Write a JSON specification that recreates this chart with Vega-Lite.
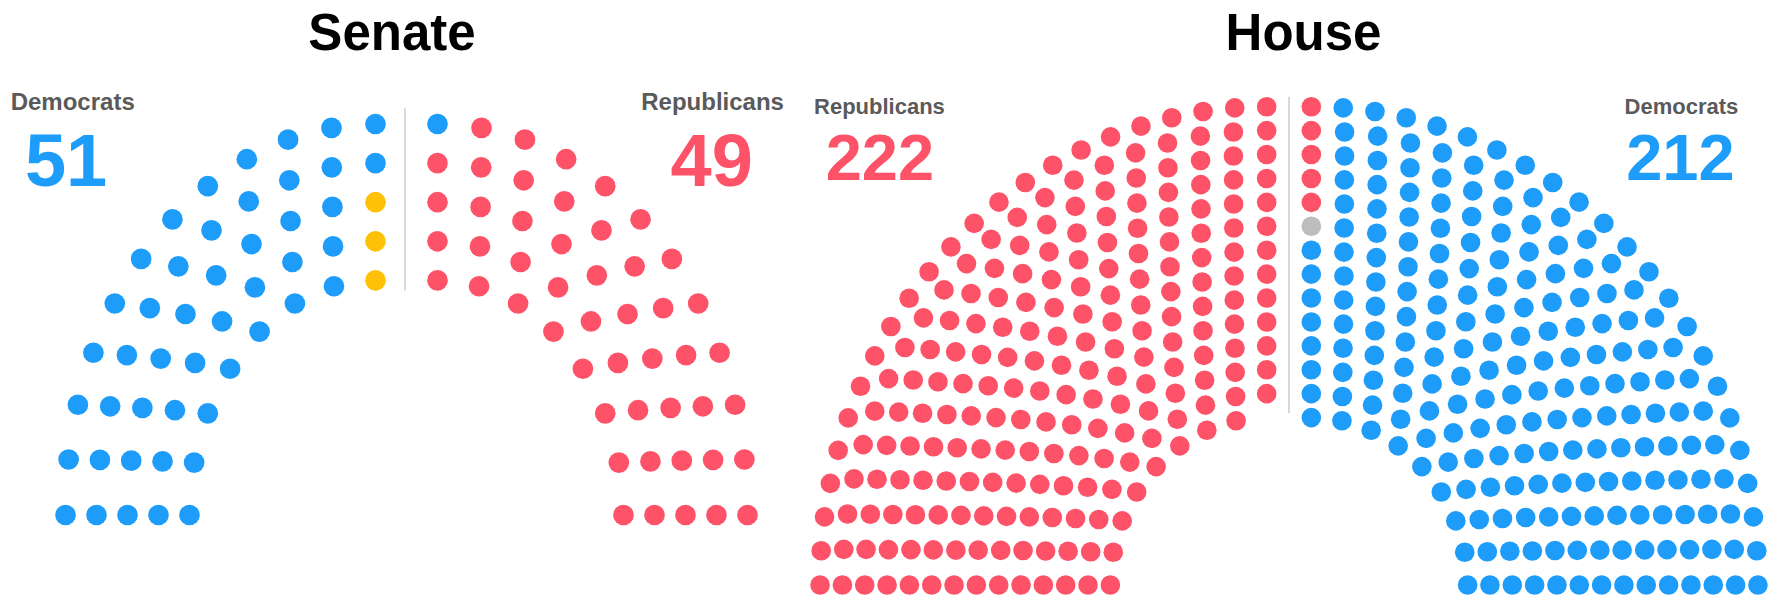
{
"$schema": "https://vega.github.io/schema/vega-lite/v6.json",
"padding": 0,
"spacing": 0,
"background": "white",
"config": {"view": {"stroke": null}, "font": "Liberation Sans"},
"datasets": {
"senate": [
{"x":-11,"y":0,"p":"D"},{"x":-10.9,"y":1.42,"p":"D"},{"x":-10.6,"y":2.82,"p":"D"},{"x":-10.1,"y":4.15,"p":"D"},{"x":-9.41,"y":5.41,"p":"D"},{"x":-8.56,"y":6.55,"p":"D"},{"x":-7.55,"y":7.56,"p":"D"},{"x":-6.41,"y":8.41,"p":"D"},{"x":-5.15,"y":9.1,"p":"D"},{"x":-3.82,"y":9.6,"p":"D"},{"x":-2.42,"y":9.9,"p":"D"},{"x":-1,"y":10,"p":"D"},
{"x":-10,"y":0,"p":"D"},{"x":-9.89,"y":1.41,"p":"D"},{"x":-9.56,"y":2.78,"p":"D"},{"x":-9.02,"y":4.09,"p":"D"},{"x":-8.28,"y":5.29,"p":"D"},{"x":-7.36,"y":6.36,"p":"D"},{"x":-6.29,"y":7.28,"p":"D"},{"x":-5.09,"y":8.02,"p":"D"},{"x":-3.78,"y":8.56,"p":"D"},{"x":-2.41,"y":8.89,"p":"D"},{"x":-1,"y":9,"p":"D"},
{"x":-9,"y":0,"p":"D"},{"x":-8.88,"y":1.39,"p":"D"},{"x":-8.52,"y":2.74,"p":"D"},{"x":-7.93,"y":4,"p":"D"},{"x":-7.13,"y":5.14,"p":"D"},{"x":-6.14,"y":6.13,"p":"D"},{"x":-5,"y":6.93,"p":"D"},{"x":-3.74,"y":7.52,"p":"D"},{"x":-2.39,"y":7.88,"p":"D"},{"x":-1,"y":8,"p":"I"},
{"x":-8,"y":0,"p":"D"},{"x":-7.87,"y":1.37,"p":"D"},{"x":-7.47,"y":2.68,"p":"D"},{"x":-6.82,"y":3.89,"p":"D"},{"x":-5.95,"y":4.95,"p":"D"},{"x":-4.89,"y":5.82,"p":"D"},{"x":-3.68,"y":6.47,"p":"D"},{"x":-2.37,"y":6.87,"p":"D"},{"x":-1,"y":7,"p":"I"},
{"x":-7,"y":0,"p":"D"},{"x":-6.85,"y":1.34,"p":"D"},{"x":-6.41,"y":2.6,"p":"D"},{"x":-5.69,"y":3.74,"p":"D"},{"x":-4.74,"y":4.69,"p":"D"},{"x":-3.6,"y":5.41,"p":"D"},{"x":-2.34,"y":5.85,"p":"D"},{"x":-1,"y":6,"p":"I"},
{"x":11,"y":0,"p":"R"},{"x":10.9,"y":1.42,"p":"R"},{"x":10.6,"y":2.82,"p":"R"},{"x":10.1,"y":4.15,"p":"R"},{"x":9.41,"y":5.41,"p":"R"},{"x":8.56,"y":6.55,"p":"R"},{"x":7.55,"y":7.56,"p":"R"},{"x":6.41,"y":8.41,"p":"R"},{"x":5.15,"y":9.1,"p":"R"},{"x":3.82,"y":9.6,"p":"R"},{"x":2.42,"y":9.9,"p":"R"},{"x":1,"y":10,"p":"D"},
{"x":10,"y":0,"p":"R"},{"x":9.89,"y":1.41,"p":"R"},{"x":9.56,"y":2.78,"p":"R"},{"x":9.02,"y":4.09,"p":"R"},{"x":8.28,"y":5.29,"p":"R"},{"x":7.36,"y":6.36,"p":"R"},{"x":6.29,"y":7.28,"p":"R"},{"x":5.09,"y":8.02,"p":"R"},{"x":3.78,"y":8.56,"p":"R"},{"x":2.41,"y":8.89,"p":"R"},{"x":1,"y":9,"p":"R"},
{"x":9,"y":0,"p":"R"},{"x":8.88,"y":1.39,"p":"R"},{"x":8.52,"y":2.74,"p":"R"},{"x":7.93,"y":4,"p":"R"},{"x":7.13,"y":5.14,"p":"R"},{"x":6.14,"y":6.13,"p":"R"},{"x":5,"y":6.93,"p":"R"},{"x":3.74,"y":7.52,"p":"R"},{"x":2.39,"y":7.88,"p":"R"},{"x":1,"y":8,"p":"R"},
{"x":8,"y":0,"p":"R"},{"x":7.87,"y":1.37,"p":"R"},{"x":7.47,"y":2.68,"p":"R"},{"x":6.82,"y":3.89,"p":"R"},{"x":5.95,"y":4.95,"p":"R"},{"x":4.89,"y":5.82,"p":"R"},{"x":3.68,"y":6.47,"p":"R"},{"x":2.37,"y":6.87,"p":"R"},{"x":1,"y":7,"p":"R"},
{"x":7,"y":0,"p":"R"},{"x":6.85,"y":1.34,"p":"R"},{"x":6.41,"y":2.6,"p":"R"},{"x":5.69,"y":3.74,"p":"R"},{"x":4.74,"y":4.69,"p":"R"},{"x":3.6,"y":5.41,"p":"R"},{"x":2.34,"y":5.85,"p":"R"},{"x":1,"y":6,"p":"R"}
],
"house": [
{"x":-21,"y":0,"p":"R"},{"x":-20.95,"y":1.43,"p":"R"},{"x":-20.8,"y":2.85,"p":"R"},{"x":-20.54,"y":4.25,"p":"R"},{"x":-20.19,"y":5.63,"p":"R"},{"x":-19.74,"y":6.99,"p":"R"},{"x":-19.19,"y":8.31,"p":"R"},{"x":-18.55,"y":9.58,"p":"R"},{"x":-17.83,"y":10.81,"p":"R"},{"x":-17.01,"y":11.99,"p":"R"},{"x":-16.12,"y":13.1,"p":"R"},{"x":-15.14,"y":14.14,"p":"R"},{"x":-14.1,"y":15.12,"p":"R"},{"x":-12.99,"y":16.01,"p":"R"},{"x":-11.81,"y":16.83,"p":"R"},{"x":-10.58,"y":17.55,"p":"R"},{"x":-9.31,"y":18.19,"p":"R"},{"x":-7.99,"y":18.74,"p":"R"},{"x":-6.63,"y":19.19,"p":"R"},{"x":-5.25,"y":19.54,"p":"R"},{"x":-3.85,"y":19.8,"p":"R"},{"x":-2.43,"y":19.95,"p":"R"},{"x":-1,"y":20,"p":"R"},
{"x":-20,"y":0,"p":"R"},{"x":-19.94,"y":1.49,"p":"R"},{"x":-19.77,"y":2.97,"p":"R"},{"x":-19.48,"y":4.44,"p":"R"},{"x":-19.07,"y":5.87,"p":"R"},{"x":-18.55,"y":7.27,"p":"R"},{"x":-17.93,"y":8.63,"p":"R"},{"x":-17.2,"y":9.93,"p":"R"},{"x":-16.37,"y":11.17,"p":"R"},{"x":-15.45,"y":12.34,"p":"R"},{"x":-14.44,"y":13.44,"p":"R"},{"x":-13.34,"y":14.45,"p":"R"},{"x":-12.17,"y":15.37,"p":"R"},{"x":-10.93,"y":16.2,"p":"R"},{"x":-9.63,"y":16.93,"p":"R"},{"x":-8.27,"y":17.55,"p":"R"},{"x":-6.87,"y":18.07,"p":"R"},{"x":-5.44,"y":18.48,"p":"R"},{"x":-3.97,"y":18.77,"p":"R"},{"x":-2.49,"y":18.94,"p":"R"},{"x":-1,"y":19,"p":"R"},
{"x":-19,"y":0,"p":"R"},{"x":-18.94,"y":1.49,"p":"R"},{"x":-18.75,"y":2.96,"p":"R"},{"x":-18.45,"y":4.42,"p":"R"},{"x":-18.02,"y":5.84,"p":"R"},{"x":-17.48,"y":7.23,"p":"R"},{"x":-16.83,"y":8.57,"p":"R"},{"x":-16.07,"y":9.85,"p":"R"},{"x":-15.2,"y":11.06,"p":"R"},{"x":-14.24,"y":12.19,"p":"R"},{"x":-13.19,"y":13.24,"p":"R"},{"x":-12.06,"y":14.2,"p":"R"},{"x":-10.85,"y":15.07,"p":"R"},{"x":-9.57,"y":15.83,"p":"R"},{"x":-8.23,"y":16.48,"p":"R"},{"x":-6.84,"y":17.02,"p":"R"},{"x":-5.42,"y":17.45,"p":"R"},{"x":-3.96,"y":17.75,"p":"R"},{"x":-2.49,"y":17.94,"p":"R"},{"x":-1,"y":18,"p":"R"},
{"x":-18,"y":0,"p":"R"},{"x":-17.94,"y":1.48,"p":"R"},{"x":-17.74,"y":2.95,"p":"R"},{"x":-17.42,"y":4.4,"p":"R"},{"x":-16.97,"y":5.81,"p":"R"},{"x":-16.41,"y":7.18,"p":"R"},{"x":-15.72,"y":8.5,"p":"R"},{"x":-14.93,"y":9.75,"p":"R"},{"x":-14.02,"y":10.93,"p":"R"},{"x":-13.02,"y":12.02,"p":"R"},{"x":-11.93,"y":13.02,"p":"R"},{"x":-10.75,"y":13.93,"p":"R"},{"x":-9.5,"y":14.72,"p":"R"},{"x":-8.18,"y":15.41,"p":"R"},{"x":-6.81,"y":15.97,"p":"R"},{"x":-5.4,"y":16.42,"p":"R"},{"x":-3.95,"y":16.74,"p":"R"},{"x":-2.48,"y":16.94,"p":"R"},{"x":-1,"y":17,"p":"R"},
{"x":-17,"y":0,"p":"R"},{"x":-16.93,"y":1.48,"p":"R"},{"x":-16.73,"y":2.94,"p":"R"},{"x":-16.39,"y":4.38,"p":"R"},{"x":-15.92,"y":5.78,"p":"R"},{"x":-15.32,"y":7.13,"p":"R"},{"x":-14.6,"y":8.42,"p":"R"},{"x":-13.77,"y":9.64,"p":"R"},{"x":-12.82,"y":10.78,"p":"R"},{"x":-11.78,"y":11.82,"p":"R"},{"x":-10.64,"y":12.77,"p":"R"},{"x":-9.42,"y":13.6,"p":"R"},{"x":-8.13,"y":14.32,"p":"R"},{"x":-6.78,"y":14.92,"p":"R"},{"x":-5.38,"y":15.39,"p":"R"},{"x":-3.94,"y":15.73,"p":"R"},{"x":-2.48,"y":15.93,"p":"R"},{"x":-1,"y":16,"p":"R"},
{"x":-16,"y":0,"p":"R"},{"x":-15.93,"y":1.47,"p":"R"},{"x":-15.71,"y":2.93,"p":"R"},{"x":-15.35,"y":4.35,"p":"R"},{"x":-14.86,"y":5.74,"p":"R"},{"x":-14.23,"y":7.07,"p":"R"},{"x":-13.47,"y":8.33,"p":"R"},{"x":-12.6,"y":9.52,"p":"R"},{"x":-11.61,"y":10.61,"p":"R"},{"x":-10.52,"y":11.6,"p":"R"},{"x":-9.33,"y":12.47,"p":"R"},{"x":-8.07,"y":13.23,"p":"R"},{"x":-6.74,"y":13.86,"p":"R"},{"x":-5.35,"y":14.35,"p":"R"},{"x":-3.93,"y":14.71,"p":"R"},{"x":-2.47,"y":14.93,"p":"R"},{"x":-1,"y":15,"p":"R"},
{"x":-15,"y":0,"p":"R"},{"x":-14.92,"y":1.46,"p":"R"},{"x":-14.69,"y":2.91,"p":"R"},{"x":-14.31,"y":4.33,"p":"R"},{"x":-13.79,"y":5.69,"p":"R"},{"x":-13.12,"y":7,"p":"R"},{"x":-12.33,"y":8.23,"p":"R"},{"x":-11.4,"y":9.37,"p":"R"},{"x":-10.37,"y":10.4,"p":"R"},{"x":-9.23,"y":11.33,"p":"R"},{"x":-8,"y":12.12,"p":"R"},{"x":-6.69,"y":12.79,"p":"R"},{"x":-5.33,"y":13.31,"p":"R"},{"x":-3.91,"y":13.69,"p":"R"},{"x":-2.46,"y":13.92,"p":"R"},{"x":-1,"y":14,"p":"R"},
{"x":-14,"y":0,"p":"R"},{"x":-13.92,"y":1.46,"p":"R"},{"x":-13.67,"y":2.89,"p":"R"},{"x":-13.27,"y":4.29,"p":"R"},{"x":-12.71,"y":5.64,"p":"R"},{"x":-12.01,"y":6.92,"p":"R"},{"x":-11.16,"y":8.11,"p":"R"},{"x":-10.19,"y":9.19,"p":"R"},{"x":-9.11,"y":10.16,"p":"R"},{"x":-7.92,"y":11.01,"p":"R"},{"x":-6.64,"y":11.71,"p":"R"},{"x":-5.29,"y":12.27,"p":"R"},{"x":-3.89,"y":12.67,"p":"R"},{"x":-2.46,"y":12.92,"p":"R"},{"x":-1,"y":13,"p":"R"},
{"x":-13,"y":0,"p":"R"},{"x":-12.91,"y":1.45,"p":"R"},{"x":-12.65,"y":2.87,"p":"R"},{"x":-12.22,"y":4.26,"p":"R"},{"x":-11.63,"y":5.58,"p":"R"},{"x":-10.88,"y":6.82,"p":"R"},{"x":-9.98,"y":7.96,"p":"R"},{"x":-8.96,"y":8.98,"p":"R"},{"x":-7.82,"y":9.88,"p":"R"},{"x":-6.58,"y":10.63,"p":"R"},{"x":-5.26,"y":11.22,"p":"R"},{"x":-3.87,"y":11.65,"p":"R"},{"x":-2.45,"y":11.91,"p":"R"},{"x":-1,"y":12,"p":"R"},
{"x":-12,"y":0,"p":"R"},{"x":-11.91,"y":1.44,"p":"R"},{"x":-11.63,"y":2.85,"p":"R"},{"x":-11.16,"y":4.21,"p":"R"},{"x":-10.53,"y":5.5,"p":"R"},{"x":-9.73,"y":6.7,"p":"R"},{"x":-8.78,"y":7.78,"p":"R"},{"x":-7.7,"y":8.73,"p":"R"},{"x":-6.5,"y":9.53,"p":"R"},{"x":-5.21,"y":10.16,"p":"R"},{"x":-3.85,"y":10.63,"p":"R"},{"x":-2.44,"y":10.91,"p":"R"},{"x":-1,"y":11,"p":"R"},
{"x":-11,"y":0,"p":"R"},{"x":-10.9,"y":1.42,"p":"R"},{"x":-10.6,"y":2.82,"p":"R"},{"x":-10.1,"y":4.15,"p":"R"},{"x":-9.41,"y":5.41,"p":"R"},{"x":-8.56,"y":6.55,"p":"R"},{"x":-7.55,"y":7.56,"p":"R"},{"x":-6.41,"y":8.41,"p":"R"},{"x":-5.15,"y":9.1,"p":"R"},{"x":-3.82,"y":9.6,"p":"R"},{"x":-2.42,"y":9.9,"p":"R"},{"x":-1,"y":10,"p":"R"},
{"x":-10,"y":0,"p":"R"},{"x":-9.89,"y":1.41,"p":"R"},{"x":-9.56,"y":2.78,"p":"R"},{"x":-9.02,"y":4.09,"p":"R"},{"x":-8.28,"y":5.29,"p":"R"},{"x":-7.36,"y":6.36,"p":"R"},{"x":-6.29,"y":7.28,"p":"R"},{"x":-5.09,"y":8.02,"p":"R"},{"x":-3.78,"y":8.56,"p":"R"},{"x":-2.41,"y":8.89,"p":"R"},{"x":-1,"y":9,"p":"R"},
{"x":-9,"y":0,"p":"R"},{"x":-8.88,"y":1.39,"p":"R"},{"x":-8.52,"y":2.74,"p":"R"},{"x":-7.93,"y":4,"p":"R"},{"x":-7.13,"y":5.14,"p":"R"},{"x":-6.14,"y":6.13,"p":"R"},{"x":-5,"y":6.93,"p":"R"},{"x":-3.74,"y":7.52,"p":"R"},{"x":-2.39,"y":7.88,"p":"R"},{"x":-1,"y":8,"p":"R"},
{"x":-8,"y":0,"p":"R"},{"x":-7.87,"y":1.37,"p":"R"},{"x":-7.47,"y":2.68,"p":"R"},{"x":-6.82,"y":3.89,"p":"R"},{"x":-5.95,"y":4.95,"p":"R"},{"x":-4.89,"y":5.82,"p":"R"},{"x":-3.68,"y":6.47,"p":"R"},{"x":-2.37,"y":6.87,"p":"R"},
{"x":21,"y":0,"p":"D"},{"x":20.95,"y":1.43,"p":"D"},{"x":20.8,"y":2.85,"p":"D"},{"x":20.54,"y":4.25,"p":"D"},{"x":20.19,"y":5.63,"p":"D"},{"x":19.74,"y":6.99,"p":"D"},{"x":19.19,"y":8.31,"p":"D"},{"x":18.55,"y":9.58,"p":"D"},{"x":17.83,"y":10.81,"p":"D"},{"x":17.01,"y":11.99,"p":"D"},{"x":16.12,"y":13.1,"p":"D"},{"x":15.14,"y":14.14,"p":"D"},{"x":14.1,"y":15.12,"p":"D"},{"x":12.99,"y":16.01,"p":"D"},{"x":11.81,"y":16.83,"p":"D"},{"x":10.58,"y":17.55,"p":"D"},{"x":9.31,"y":18.19,"p":"D"},{"x":7.99,"y":18.74,"p":"D"},{"x":6.63,"y":19.19,"p":"D"},{"x":5.25,"y":19.54,"p":"D"},{"x":3.85,"y":19.8,"p":"D"},{"x":2.43,"y":19.95,"p":"D"},{"x":1,"y":20,"p":"R"},
{"x":20,"y":0,"p":"D"},{"x":19.94,"y":1.49,"p":"D"},{"x":19.77,"y":2.97,"p":"D"},{"x":19.48,"y":4.44,"p":"D"},{"x":19.07,"y":5.87,"p":"D"},{"x":18.55,"y":7.27,"p":"D"},{"x":17.93,"y":8.63,"p":"D"},{"x":17.2,"y":9.93,"p":"D"},{"x":16.37,"y":11.17,"p":"D"},{"x":15.45,"y":12.34,"p":"D"},{"x":14.44,"y":13.44,"p":"D"},{"x":13.34,"y":14.45,"p":"D"},{"x":12.17,"y":15.37,"p":"D"},{"x":10.93,"y":16.2,"p":"D"},{"x":9.63,"y":16.93,"p":"D"},{"x":8.27,"y":17.55,"p":"D"},{"x":6.87,"y":18.07,"p":"D"},{"x":5.44,"y":18.48,"p":"D"},{"x":3.97,"y":18.77,"p":"D"},{"x":2.49,"y":18.94,"p":"D"},{"x":1,"y":19,"p":"R"},
{"x":19,"y":0,"p":"D"},{"x":18.94,"y":1.49,"p":"D"},{"x":18.75,"y":2.96,"p":"D"},{"x":18.45,"y":4.42,"p":"D"},{"x":18.02,"y":5.84,"p":"D"},{"x":17.48,"y":7.23,"p":"D"},{"x":16.83,"y":8.57,"p":"D"},{"x":16.07,"y":9.85,"p":"D"},{"x":15.2,"y":11.06,"p":"D"},{"x":14.24,"y":12.19,"p":"D"},{"x":13.19,"y":13.24,"p":"D"},{"x":12.06,"y":14.2,"p":"D"},{"x":10.85,"y":15.07,"p":"D"},{"x":9.57,"y":15.83,"p":"D"},{"x":8.23,"y":16.48,"p":"D"},{"x":6.84,"y":17.02,"p":"D"},{"x":5.42,"y":17.45,"p":"D"},{"x":3.96,"y":17.75,"p":"D"},{"x":2.49,"y":17.94,"p":"D"},{"x":1,"y":18,"p":"R"},
{"x":18,"y":0,"p":"D"},{"x":17.94,"y":1.48,"p":"D"},{"x":17.74,"y":2.95,"p":"D"},{"x":17.42,"y":4.4,"p":"D"},{"x":16.97,"y":5.81,"p":"D"},{"x":16.41,"y":7.18,"p":"D"},{"x":15.72,"y":8.5,"p":"D"},{"x":14.93,"y":9.75,"p":"D"},{"x":14.02,"y":10.93,"p":"D"},{"x":13.02,"y":12.02,"p":"D"},{"x":11.93,"y":13.02,"p":"D"},{"x":10.75,"y":13.93,"p":"D"},{"x":9.5,"y":14.72,"p":"D"},{"x":8.18,"y":15.41,"p":"D"},{"x":6.81,"y":15.97,"p":"D"},{"x":5.4,"y":16.42,"p":"D"},{"x":3.95,"y":16.74,"p":"D"},{"x":2.48,"y":16.94,"p":"D"},{"x":1,"y":17,"p":"R"},
{"x":17,"y":0,"p":"D"},{"x":16.93,"y":1.48,"p":"D"},{"x":16.73,"y":2.94,"p":"D"},{"x":16.39,"y":4.38,"p":"D"},{"x":15.92,"y":5.78,"p":"D"},{"x":15.32,"y":7.13,"p":"D"},{"x":14.6,"y":8.42,"p":"D"},{"x":13.77,"y":9.64,"p":"D"},{"x":12.82,"y":10.78,"p":"D"},{"x":11.78,"y":11.82,"p":"D"},{"x":10.64,"y":12.77,"p":"D"},{"x":9.42,"y":13.6,"p":"D"},{"x":8.13,"y":14.32,"p":"D"},{"x":6.78,"y":14.92,"p":"D"},{"x":5.38,"y":15.39,"p":"D"},{"x":3.94,"y":15.73,"p":"D"},{"x":2.48,"y":15.93,"p":"D"},{"x":1,"y":16,"p":"R"},
{"x":16,"y":0,"p":"D"},{"x":15.93,"y":1.47,"p":"D"},{"x":15.71,"y":2.93,"p":"D"},{"x":15.35,"y":4.35,"p":"D"},{"x":14.86,"y":5.74,"p":"D"},{"x":14.23,"y":7.07,"p":"D"},{"x":13.47,"y":8.33,"p":"D"},{"x":12.6,"y":9.52,"p":"D"},{"x":11.61,"y":10.61,"p":"D"},{"x":10.52,"y":11.6,"p":"D"},{"x":9.33,"y":12.47,"p":"D"},{"x":8.07,"y":13.23,"p":"D"},{"x":6.74,"y":13.86,"p":"D"},{"x":5.35,"y":14.35,"p":"D"},{"x":3.93,"y":14.71,"p":"D"},{"x":2.47,"y":14.93,"p":"D"},{"x":1,"y":15,"p":"V"},
{"x":15,"y":0,"p":"D"},{"x":14.92,"y":1.46,"p":"D"},{"x":14.69,"y":2.91,"p":"D"},{"x":14.31,"y":4.33,"p":"D"},{"x":13.79,"y":5.69,"p":"D"},{"x":13.12,"y":7,"p":"D"},{"x":12.33,"y":8.23,"p":"D"},{"x":11.4,"y":9.37,"p":"D"},{"x":10.37,"y":10.4,"p":"D"},{"x":9.23,"y":11.33,"p":"D"},{"x":8,"y":12.12,"p":"D"},{"x":6.69,"y":12.79,"p":"D"},{"x":5.33,"y":13.31,"p":"D"},{"x":3.91,"y":13.69,"p":"D"},{"x":2.46,"y":13.92,"p":"D"},{"x":1,"y":14,"p":"D"},
{"x":14,"y":0,"p":"D"},{"x":13.92,"y":1.46,"p":"D"},{"x":13.67,"y":2.89,"p":"D"},{"x":13.27,"y":4.29,"p":"D"},{"x":12.71,"y":5.64,"p":"D"},{"x":12.01,"y":6.92,"p":"D"},{"x":11.16,"y":8.11,"p":"D"},{"x":10.19,"y":9.19,"p":"D"},{"x":9.11,"y":10.16,"p":"D"},{"x":7.92,"y":11.01,"p":"D"},{"x":6.64,"y":11.71,"p":"D"},{"x":5.29,"y":12.27,"p":"D"},{"x":3.89,"y":12.67,"p":"D"},{"x":2.46,"y":12.92,"p":"D"},{"x":1,"y":13,"p":"D"},
{"x":13,"y":0,"p":"D"},{"x":12.91,"y":1.45,"p":"D"},{"x":12.65,"y":2.87,"p":"D"},{"x":12.22,"y":4.26,"p":"D"},{"x":11.63,"y":5.58,"p":"D"},{"x":10.88,"y":6.82,"p":"D"},{"x":9.98,"y":7.96,"p":"D"},{"x":8.96,"y":8.98,"p":"D"},{"x":7.82,"y":9.88,"p":"D"},{"x":6.58,"y":10.63,"p":"D"},{"x":5.26,"y":11.22,"p":"D"},{"x":3.87,"y":11.65,"p":"D"},{"x":2.45,"y":11.91,"p":"D"},{"x":1,"y":12,"p":"D"},
{"x":12,"y":0,"p":"D"},{"x":11.91,"y":1.44,"p":"D"},{"x":11.63,"y":2.85,"p":"D"},{"x":11.16,"y":4.21,"p":"D"},{"x":10.53,"y":5.5,"p":"D"},{"x":9.73,"y":6.7,"p":"D"},{"x":8.78,"y":7.78,"p":"D"},{"x":7.7,"y":8.73,"p":"D"},{"x":6.5,"y":9.53,"p":"D"},{"x":5.21,"y":10.16,"p":"D"},{"x":3.85,"y":10.63,"p":"D"},{"x":2.44,"y":10.91,"p":"D"},{"x":1,"y":11,"p":"D"},
{"x":11,"y":0,"p":"D"},{"x":10.9,"y":1.42,"p":"D"},{"x":10.6,"y":2.82,"p":"D"},{"x":10.1,"y":4.15,"p":"D"},{"x":9.41,"y":5.41,"p":"D"},{"x":8.56,"y":6.55,"p":"D"},{"x":7.55,"y":7.56,"p":"D"},{"x":6.41,"y":8.41,"p":"D"},{"x":5.15,"y":9.1,"p":"D"},{"x":3.82,"y":9.6,"p":"D"},{"x":2.42,"y":9.9,"p":"D"},{"x":1,"y":10,"p":"D"},
{"x":10,"y":0,"p":"D"},{"x":9.89,"y":1.41,"p":"D"},{"x":9.56,"y":2.78,"p":"D"},{"x":9.02,"y":4.09,"p":"D"},{"x":8.28,"y":5.29,"p":"D"},{"x":7.36,"y":6.36,"p":"D"},{"x":6.29,"y":7.28,"p":"D"},{"x":5.09,"y":8.02,"p":"D"},{"x":3.78,"y":8.56,"p":"D"},{"x":2.41,"y":8.89,"p":"D"},{"x":1,"y":9,"p":"D"},
{"x":9,"y":0,"p":"D"},{"x":8.88,"y":1.39,"p":"D"},{"x":8.52,"y":2.74,"p":"D"},{"x":7.93,"y":4,"p":"D"},{"x":7.13,"y":5.14,"p":"D"},{"x":6.14,"y":6.13,"p":"D"},{"x":5,"y":6.93,"p":"D"},{"x":3.74,"y":7.52,"p":"D"},{"x":2.39,"y":7.88,"p":"D"},{"x":1,"y":8,"p":"D"},
{"x":8,"y":0,"p":"D"},{"x":7.87,"y":1.37,"p":"D"},{"x":7.47,"y":2.68,"p":"D"},{"x":6.82,"y":3.89,"p":"D"},{"x":5.95,"y":4.95,"p":"D"},{"x":4.89,"y":5.82,"p":"D"},{"x":3.68,"y":6.47,"p":"D"},{"x":2.37,"y":6.87,"p":"D"},{"x":1,"y":7,"p":"D"}
]
},
"hconcat": [
{
"width": 800, "height": 596,
"layer": [
{"data": {"values": [{}]},
 "mark": {"type": "rule", "color": "#cccccc", "strokeWidth": 1.5},
 "encoding": {
  "x": {"datum": -0.05, "type": "quantitative", "axis": null, "scale": {"domain": [-13.113, 12.694], "nice": false, "zero": false}},
  "y": {"datum": 10.4, "type": "quantitative", "axis": null, "scale": {"domain": [-2.0716, 13.1714], "nice": false, "zero": false}},
  "y2": {"datum": 5.74}}},
{"data": {"name": "senate"},
 "mark": {"type": "point", "filled": true, "size": 428, "opacity": 1, "strokeWidth": 0},
 "encoding": {
  "x": {"field": "x", "type": "quantitative", "axis": null, "scale": {"domain": [-13.113, 12.694], "nice": false, "zero": false}},
  "y": {"field": "y", "type": "quantitative", "axis": null, "scale": {"domain": [-2.0716, 13.1714], "nice": false, "zero": false}},
  "color": {"field": "p", "type": "nominal", "legend": null, "scale": {"domain": ["D", "R", "I", "V"], "range": ["#1e9cf9", "#fd5268", "#ffc107", "#bdbdbd"]}}}},
{"data": {"values": [{}]},
 "mark": {"type": "text", "text": "Senate", "fontSize": 51, "fontWeight": "bold", "color": "#000000", "align": "center", "baseline": "alphabetic"},
 "encoding": {"x": {"datum": -0.468, "type": "quantitative"}, "y": {"datum": 11.893, "type": "quantitative"}}},
{"data": {"values": [{}]},
 "mark": {"type": "text", "text": "Democrats", "fontSize": 24, "fontWeight": "bold", "color": "#5a5a5a", "align": "left", "baseline": "alphabetic"},
 "encoding": {"x": {"datum": -12.768, "type": "quantitative"}, "y": {"datum": 10.36, "type": "quantitative"}}},
{"data": {"values": [{}]},
 "mark": {"type": "text", "text": "51", "fontSize": 74, "fontWeight": "bold", "color": "#1e9cf9", "align": "center", "baseline": "alphabetic"},
 "encoding": {"x": {"datum": -10.98, "type": "quantitative"}, "y": {"datum": 8.41, "type": "quantitative"}}},
{"data": {"values": [{}]},
 "mark": {"type": "text", "text": "Republicans", "fontSize": 24, "fontWeight": "bold", "color": "#5a5a5a", "align": "right", "baseline": "alphabetic"},
 "encoding": {"x": {"datum": 12.177, "type": "quantitative"}, "y": {"datum": 10.36, "type": "quantitative"}}},
{"data": {"values": [{}]},
 "mark": {"type": "text", "text": "49", "fontSize": 74, "fontWeight": "bold", "color": "#fd5268", "align": "center", "baseline": "alphabetic"},
 "encoding": {"x": {"datum": 9.845, "type": "quantitative"}, "y": {"datum": 8.41, "type": "quantitative"}}}
]
},
{
"width": 970, "height": 596,
"layer": [
{"data": {"values": [{}]},
 "mark": {"type": "rule", "color": "#cccccc", "strokeWidth": 1.5},
 "encoding": {
  "x": {"datum": 0, "type": "quantitative", "axis": null, "scale": {"domain": [-21.899, 21.541], "nice": false, "zero": false}},
  "y": {"datum": 20.42, "type": "quantitative", "axis": null, "scale": {"domain": [-0.46, 24.462], "nice": false, "zero": false}},
  "y2": {"datum": 7.18}}},
{"data": {"name": "house"},
 "mark": {"type": "point", "filled": true, "size": 385, "opacity": 1, "strokeWidth": 0},
 "encoding": {
  "x": {"field": "x", "type": "quantitative", "axis": null, "scale": {"domain": [-21.899, 21.541], "nice": false, "zero": false}},
  "y": {"field": "y", "type": "quantitative", "axis": null, "scale": {"domain": [-0.46, 24.462], "nice": false, "zero": false}},
  "color": {"field": "p", "type": "nominal", "legend": null, "scale": {"domain": ["D", "R", "I", "V"], "range": ["#1e9cf9", "#fd5268", "#ffc107", "#bdbdbd"]}}}},
{"data": {"values": [{}]},
 "mark": {"type": "text", "text": "House", "fontSize": 51, "fontWeight": "bold", "color": "#000000", "align": "center", "baseline": "alphabetic"},
 "encoding": {"x": {"datum": 0.649, "type": "quantitative"}, "y": {"datum": 22.371, "type": "quantitative"}}},
{"data": {"values": [{}]},
 "mark": {"type": "text", "text": "Republicans", "fontSize": 22, "fontWeight": "bold", "color": "#5a5a5a", "align": "left", "baseline": "alphabetic"},
 "encoding": {"x": {"datum": -21.27, "type": "quantitative"}, "y": {"datum": 19.69, "type": "quantitative"}}},
{"data": {"values": [{}]},
 "mark": {"type": "text", "text": "222", "fontSize": 65, "fontWeight": "bold", "color": "#fd5268", "align": "center", "baseline": "alphabetic"},
 "encoding": {"x": {"datum": -18.32, "type": "quantitative"}, "y": {"datum": 16.94, "type": "quantitative"}}},
{"data": {"values": [{}]},
 "mark": {"type": "text", "text": "Democrats", "fontSize": 22, "fontWeight": "bold", "color": "#5a5a5a", "align": "right", "baseline": "alphabetic"},
 "encoding": {"x": {"datum": 20.12, "type": "quantitative"}, "y": {"datum": 19.69, "type": "quantitative"}}},
{"data": {"values": [{}]},
 "mark": {"type": "text", "text": "212", "fontSize": 65, "fontWeight": "bold", "color": "#1e9cf9", "align": "center", "baseline": "alphabetic"},
 "encoding": {"x": {"datum": 17.53, "type": "quantitative"}, "y": {"datum": 16.94, "type": "quantitative"}}}
]
}
]
}
